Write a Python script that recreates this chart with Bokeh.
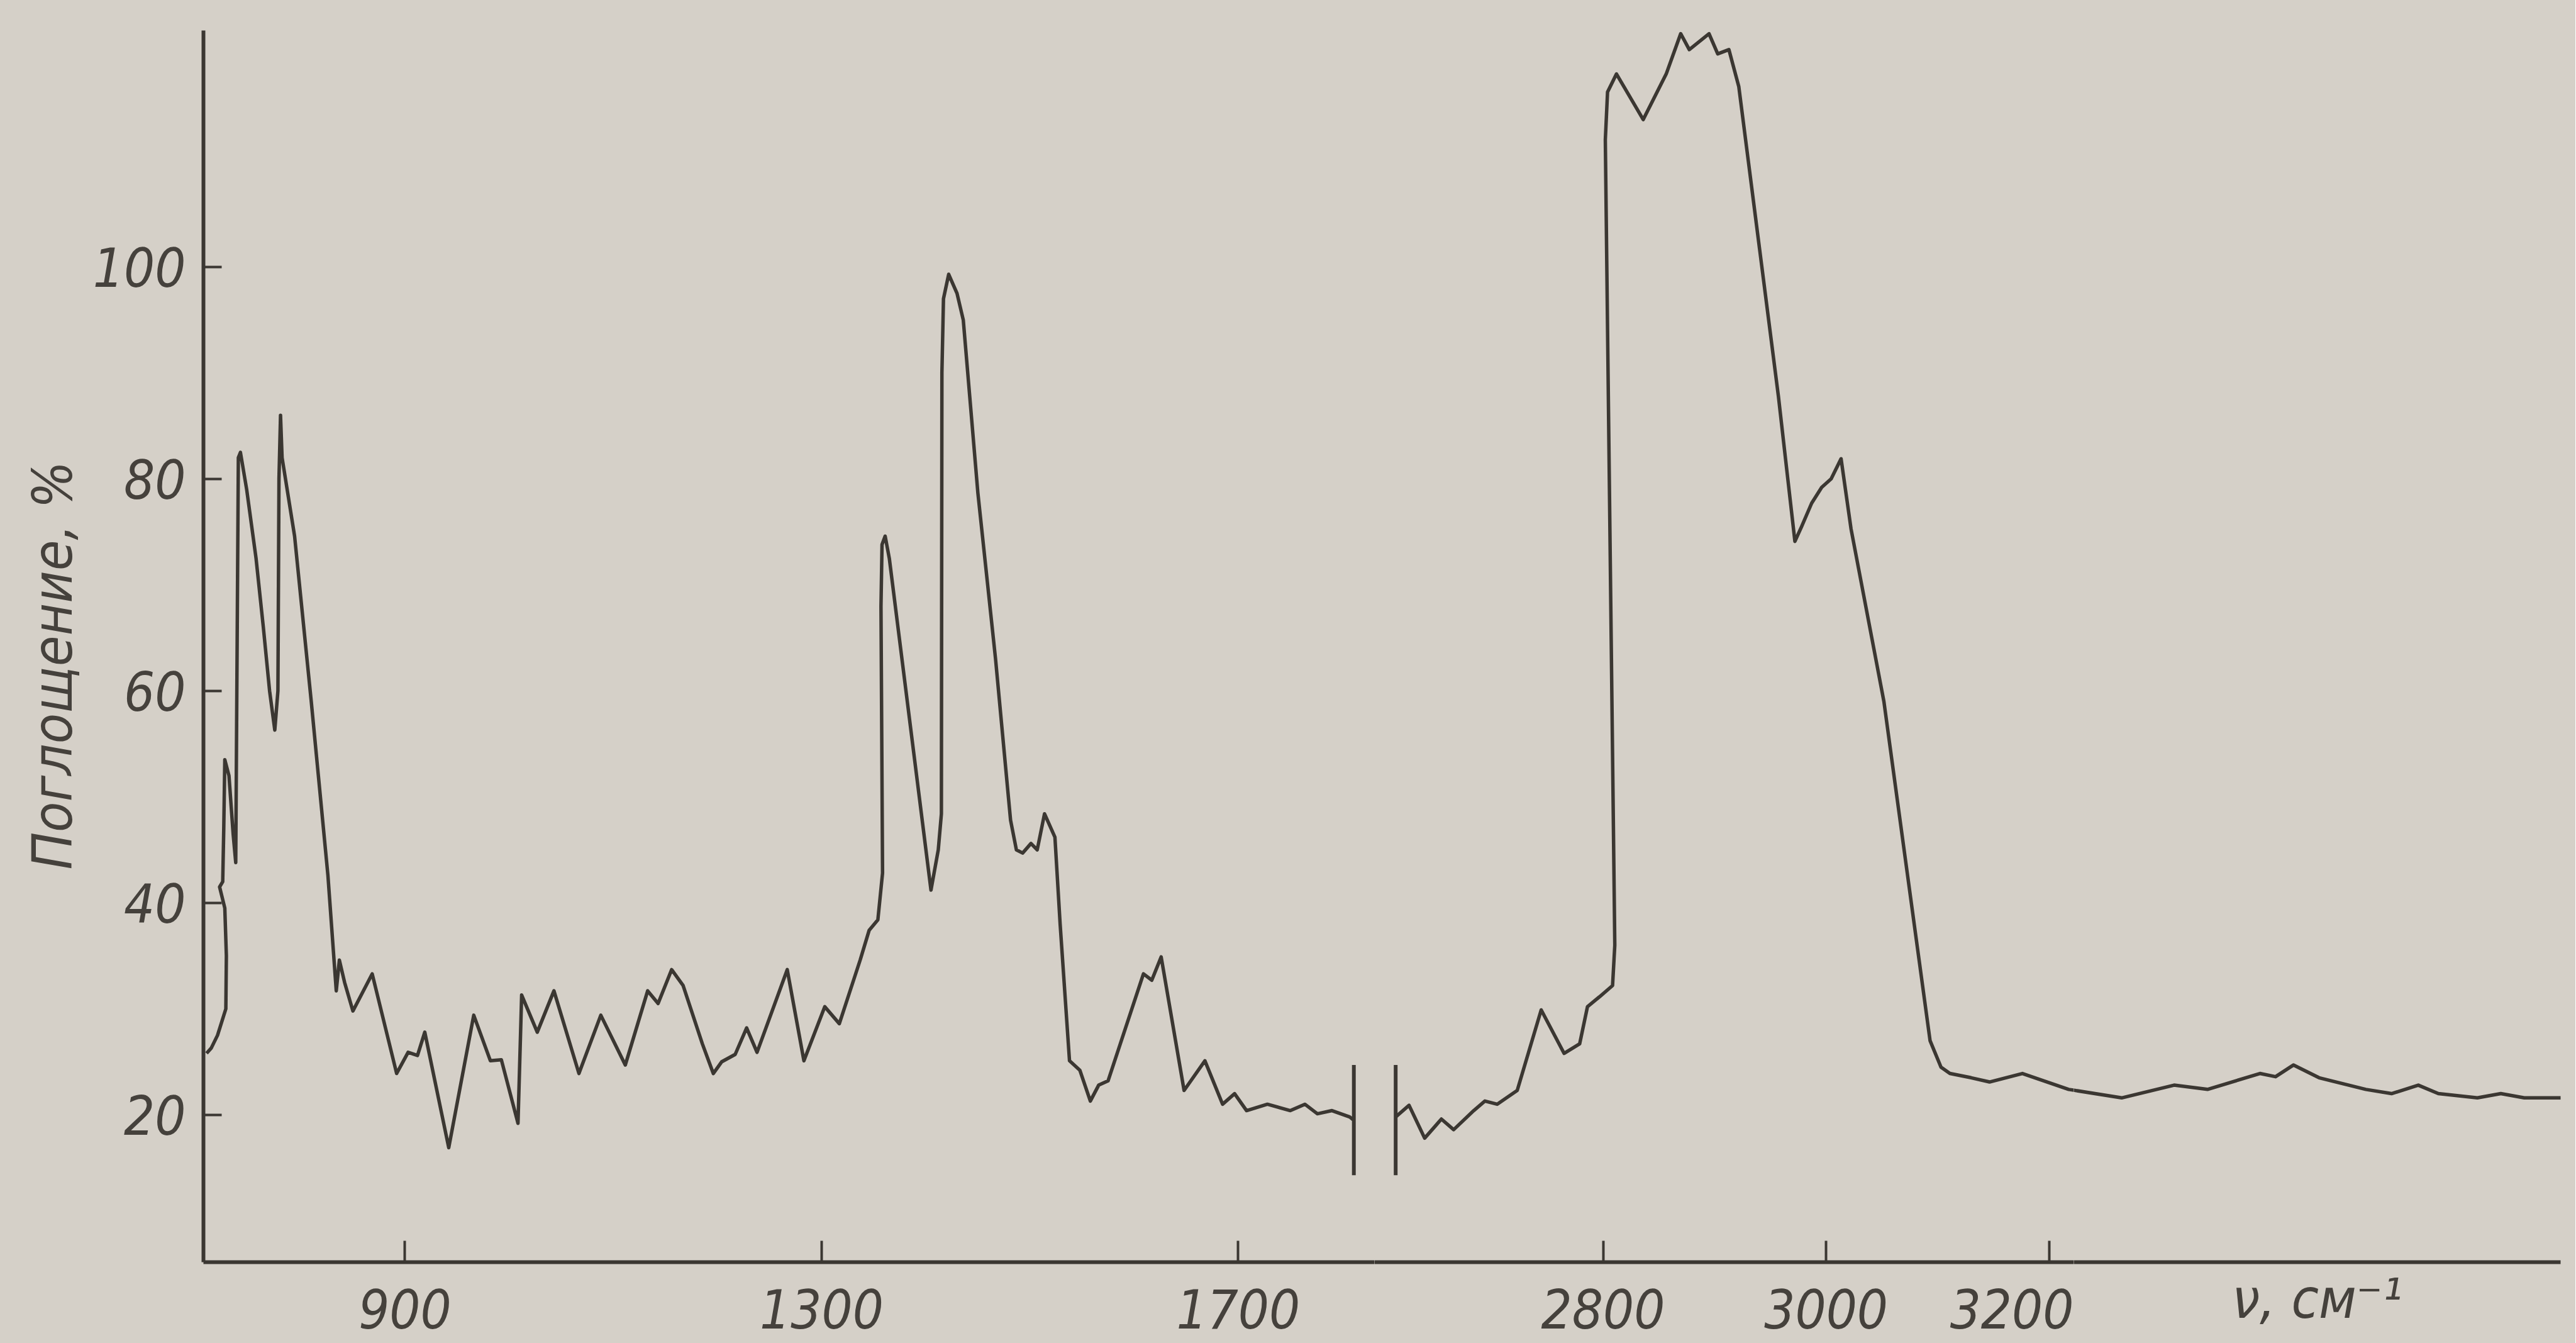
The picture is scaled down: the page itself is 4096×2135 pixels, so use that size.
from bokeh.plotting import figure
from bokeh.layouts import row
from bokeh.models import Range1d, FixedTicker, Title
from bokeh.embed import file_html
from bokeh.resources import INLINE

# ---------------- data ----------------
# left part of the broken wavenumber axis (cm^-1) and absorption (%)
left_wn = [709.5, 714, 720, 728, 728.5, 727, 722, 725, 726, 727, 731, 735, 737.5,
           740, 742, 748, 757, 764, 770, 775, 778, 779, 780.5, 782, 794, 810, 826,
           834, 837, 842, 850, 868.5, 892, 903, 912, 919, 942, 966, 982, 992.5,
           1008.5, 1012, 1027, 1043, 1067, 1088, 1111.5, 1133, 1143, 1156, 1167,
           1185.5, 1196, 1204, 1217, 1228, 1238, 1267, 1283, 1303, 1317, 1337,
           1345.6, 1354, 1358.5, 1357, 1358, 1361, 1365, 1405, 1412, 1415, 1415.5,
           1417, 1422, 1430, 1436, 1450, 1467, 1481.4, 1487, 1493, 1501, 1507, 1514,
           1524, 1529, 1538, 1548, 1558, 1566, 1575, 1609, 1617, 1626, 1648, 1668,
           1685, 1696.5, 1708, 1728, 1750, 1764, 1776, 1790, 1807, 1811]
left_abs = [25.8, 26.3, 27.5, 30.0, 35.0, 39.5, 41.5, 42.0, 47.0, 53.5, 52.0, 46.5, 43.8,
            82.0, 82.5, 79.0, 72.5, 66.0, 60.0, 56.3, 60.0, 80.0, 86.0, 82.0, 74.6, 59.0, 42.6,
            31.7, 34.6, 32.5, 29.8, 33.3, 23.9, 25.9, 25.6, 27.8, 16.9, 29.4, 25.1, 25.2,
            19.2, 31.3, 27.8, 31.7, 23.9, 29.4, 24.7, 31.7, 30.5, 33.7, 32.2,
            26.7, 23.9, 25.0, 25.7, 28.2, 25.9, 33.7, 25.1, 30.2, 28.6, 34.6,
            37.4, 38.4, 42.8, 68.0, 73.8, 74.6, 72.5, 41.2, 45.0, 48.4, 90.0,
            97.0, 99.3, 97.5, 95.0, 78.7, 63.0, 47.8, 45.0, 44.7, 45.6, 45.0, 48.4,
            46.2, 38.0, 25.1, 24.2, 21.3, 22.8, 23.2, 33.3, 32.7, 34.9, 22.3, 25.1,
            21.0, 22.0, 20.4, 21.0, 20.4, 21.0, 20.1, 20.4, 19.8, 19.5]

# right part of the broken axis
right_wn = [2614, 2626, 2640, 2655, 2666, 2684, 2694, 2705, 2723, 2744.5, 2765, 2779,
            2786, 2797.5, 2808.5, 2810.5, 2802, 2804, 2812, 2836, 2856.6, 2869.6,
            2877.3, 2895, 2902.8, 2912.8, 2921.7, 2957.2, 2972, 2978, 2987, 2996,
            3004.5, 3013.4, 3022.3, 3051.8, 3093.2, 3103, 3111, 3130, 3146.5, 3176,
            3217.5, 3265, 3312, 3342, 3389, 3403, 3419, 3442, 3484, 3507, 3531, 3549,
            3584, 3605, 3626, 3660]
right_abs = [19.8, 20.9, 17.8, 19.6, 18.6, 20.4, 21.3, 21.0, 22.3, 29.9, 25.8, 26.7,
             30.2, 31.2, 32.2, 36.0, 112.0, 116.5, 118.2, 113.9, 118.2, 122.0,
             120.5, 122.0, 120.1, 120.5, 117.0, 87.8, 74.1, 75.5, 77.7, 79.2,
             80.0, 81.9, 75.3, 59.0, 27.0, 24.5, 23.9, 23.5, 23.1, 23.9,
             22.4, 21.6, 22.8, 22.4, 23.9, 23.6, 24.7, 23.5, 22.4, 22.0, 22.8, 22.0,
             21.6, 22.0, 21.6, 21.6]

x_ticks_left = [900, 1300, 1700]
x_ticks_right = [2800, 3000, 3200]
y_ticks = [20, 40, 60, 80, 100]

break_left_wn = [1811]
break_right_wn = [2614]
break_low = [14.3]
break_high = [24.7]

y_label = "Поглощение, %"
x_label = "ν, см⁻¹"

# ---------------- styling ----------------
BG = "#d5d0c8"
INK = "#3b3732"
TXT = "#45413c"
FONT = "DejaVu Sans Condensed"
TICK_FS = "86px"
LABEL_FS = "88px"

Y_RANGE = (6.1, 122.3)
TOP, BOTTOM = 48, 129
FRAME_H = 1958


def make_fig(frame_width, x_start, x_end, border_left, border_right, with_y):
    p = figure(output_backend="svg", toolbar_location=None,
               frame_width=frame_width, frame_height=FRAME_H,
               x_range=Range1d(x_start, x_end), y_range=Range1d(*Y_RANGE),
               y_axis_location="left" if with_y else None,
               min_border_left=border_left, min_border_right=border_right,
               min_border_top=TOP, min_border_bottom=BOTTOM)
    p.background_fill_color = BG
    p.border_fill_color = BG
    p.outline_line_color = None
    p.xgrid.visible = False
    p.ygrid.visible = False
    for ax in p.axis:
        ax.axis_line_color = INK
        ax.axis_line_width = 6
        ax.major_tick_line_color = INK
        ax.major_tick_line_width = 4
        ax.major_tick_out = 0
        ax.minor_tick_line_color = None
        ax.major_label_text_font = FONT
        ax.major_label_text_font_style = "italic"
        ax.major_label_text_font_size = TICK_FS
        ax.major_label_text_color = TXT
    p.xaxis.major_tick_in = 34
    p.xaxis.major_label_standoff = 42
    return p


# left segment: 706.5 .. 1830.8 cm^-1 ; right: 2595 .. 3658.6 cm^-1 (split at 3222.1)
left = make_fig(1862, 706.5, 1830.8, 323, 0, True)
mid = make_fig(1112, 2595, 3222.1, 0, 0, False)
far = make_fig(774, 3222.1, 3658.6, 0, 24, False)

left.xaxis.ticker = FixedTicker(ticks=x_ticks_left)
mid.xaxis.ticker = FixedTicker(ticks=x_ticks_right)
far.xaxis.ticker = FixedTicker(ticks=[])
far.xaxis.major_label_standoff = 0
far.xaxis.major_tick_in = 0
far.xaxis.axis_label = x_label
far.xaxis.axis_label_text_font = FONT
far.xaxis.axis_label_text_font_style = "italic"
far.xaxis.axis_label_text_font_size = LABEL_FS
far.xaxis.axis_label_text_color = TXT
far.xaxis.axis_label_standoff = 6

left.yaxis.ticker = FixedTicker(ticks=y_ticks)
left.yaxis.major_tick_in = 29
left.yaxis.major_label_standoff = 28

# vertical axis title, placed a little below the frame centre as in the original
left.add_layout(Title(text=y_label, align="left", offset=624, standoff=18,
                      vertical_align="middle",
                      text_font=FONT, text_font_style="italic",
                      text_font_size=LABEL_FS, text_color=TXT), "left")

left.line(left_wn, left_abs, line_color=INK, line_width=5.5, line_join="round")
for p in (mid, far):
    p.line(right_wn, right_abs, line_color=INK, line_width=5.5, line_join="round")

left.segment(x0=break_left_wn, y0=break_low, x1=break_left_wn, y1=break_high,
             line_color=INK, line_width=6)
mid.segment(x0=break_right_wn, y0=break_low, x1=break_right_wn, y1=break_high,
            line_color=INK, line_width=6)

layout = row(left, mid, far, spacing=0, styles={"background-color": BG})
open("out.html", "w").write(file_html(layout, INLINE))
